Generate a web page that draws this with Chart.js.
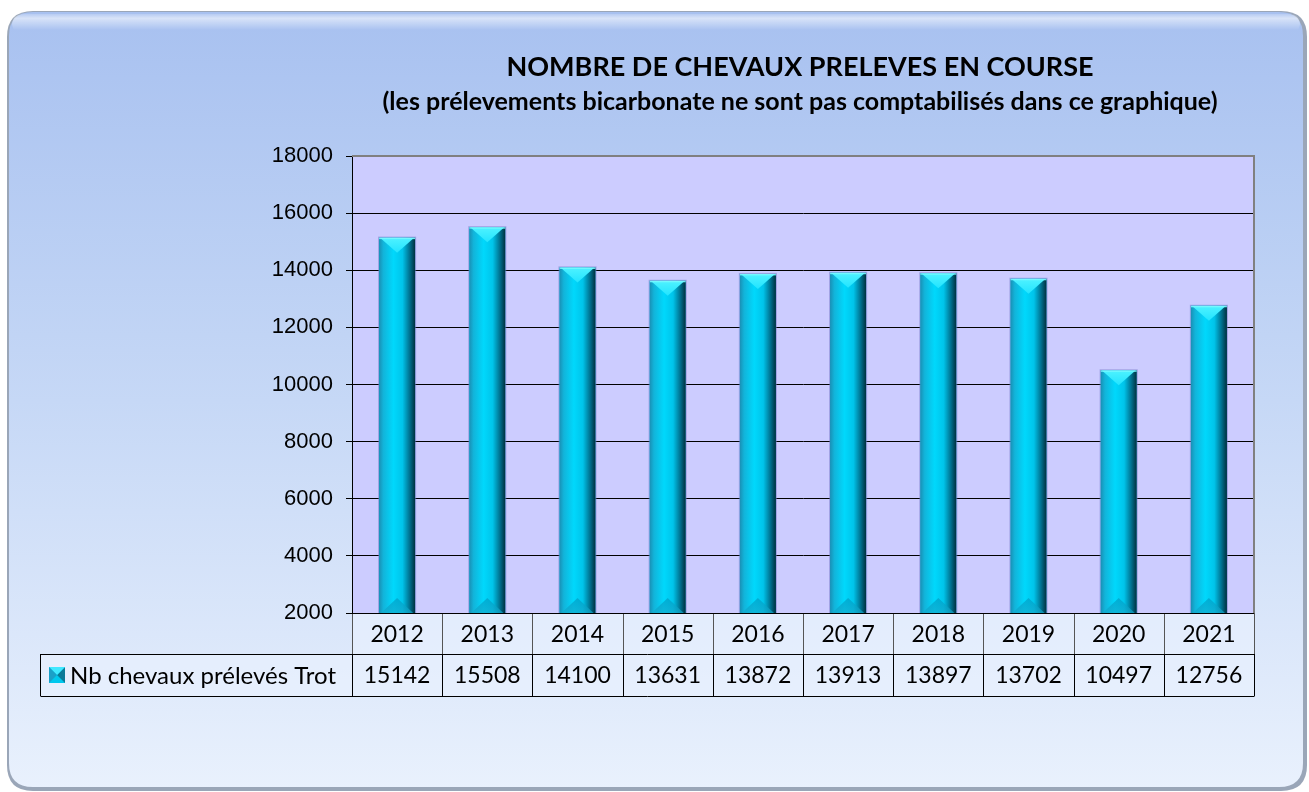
<!DOCTYPE html>
<html lang="fr">
<head>
    <meta charset="UTF-8">
    <title>Nombre de chevaux prélevés en course</title>
    <script src="https://cdn.jsdelivr.net/npm/chart.js"></script>
    <style>
        html, body { margin: 0; padding: 0; background: #ffffff; }
        canvas { display: block; }
    </style>
</head>
<body>
    <canvas id="chart" width="1309" height="792"></canvas>

    <script>
        // Data
        const years = ['2012', '2013', '2014', '2015', '2016', '2017', '2018', '2019', '2020', '2021'];
        const trotValues = [15142, 15508, 14100, 13631, 13872, 13913, 13897, 13702, 10497, 12756];
        const seriesLabel = 'Nb chevaux prélevés Trot';
        const titleText = 'NOMBRE DE CHEVAUX PRELEVES EN COURSE';
        const subtitleText = '(les prélevements bicarbonate ne sont pas comptabilisés dans ce graphique)';

        const textFont = 'Lato, "Open Sans", sans-serif';

        function roundRect(ctx, x, y, w, h, r) {
            ctx.beginPath();
            ctx.moveTo(x + r, y);
            ctx.lineTo(x + w - r, y);
            ctx.quadraticCurveTo(x + w, y, x + w, y + r);
            ctx.lineTo(x + w, y + h - r);
            ctx.quadraticCurveTo(x + w, y + h, x + w - r, y + h);
            ctx.lineTo(x + r, y + h);
            ctx.quadraticCurveTo(x, y + h, x, y + h - r);
            ctx.lineTo(x, y + r);
            ctx.quadraticCurveTo(x, y, x + r, y);
            ctx.closePath();
        }

        // panel background, plot area fill
        const backgroundPlugin = {
            id: 'panel',
            beforeDraw(chart) {
                const ctx = chart.ctx;
                const area = chart.chartArea;
                ctx.save();
                ctx.fillStyle = '#ffffff';
                ctx.fillRect(0, 0, chart.width, chart.height);

                // bevel shadow
                roundRect(ctx, 7, 11, 1300, 780, 26);
                ctx.fillStyle = '#9aa6b8';
                ctx.fill();

                const g = ctx.createLinearGradient(0, 12, 0, 790);
                g.addColorStop(0, '#a8c1f0');
                g.addColorStop(0.5, '#c6d8f6');
                g.addColorStop(1, '#e9f1fd');
                roundRect(ctx, 9, 12, 1294, 775, 24);
                ctx.fillStyle = g;
                ctx.fill();

                // top highlight
                const hl = ctx.createLinearGradient(0, 12, 0, 30);
                hl.addColorStop(0, 'rgba(255,255,255,0.0)');
                hl.addColorStop(0.35, 'rgba(255,255,255,0.55)');
                hl.addColorStop(1, 'rgba(255,255,255,0)');
                roundRect(ctx, 12, 14, 1288, 20, 12);
                ctx.fillStyle = hl;
                ctx.fill();

                ctx.fillStyle = '#ccccff';
                ctx.fillRect(area.left, area.top, area.right - area.left, area.bottom - area.top);
                ctx.restore();
            }
        };

        // cylinder-like shading on each bar
        const barShadePlugin = {
            id: 'barShade',
            afterDatasetsDraw(chart) {
                const ctx = chart.ctx;
                const area = chart.chartArea;
                const meta = chart.getDatasetMeta(0);
                ctx.save();
                ctx.beginPath();
                ctx.rect(area.left, area.top, area.right - area.left, area.bottom - area.top);
                ctx.clip();
                meta.data.forEach(bar => {
                    const w = bar.width;
                    const l = bar.x - w / 2;
                    const r = bar.x + w / 2;
                    const top = bar.y;
                    const bottom = Math.min(bar.base, area.bottom);

                    const g = ctx.createLinearGradient(l, 0, r, 0);
                    g.addColorStop(0, '#1990b5');
                    g.addColorStop(0.12, '#12b4da');
                    g.addColorStop(0.4, '#00d8fc');
                    g.addColorStop(0.65, '#00c4ea');
                    g.addColorStop(0.85, '#00708e');
                    g.addColorStop(1, '#00303e');
                    ctx.fillStyle = g;
                    ctx.fillRect(l, top, w, bottom - top);

                    // top bevel
                    const h = 15;
                    const tg = ctx.createLinearGradient(0, top, 0, top + h);
                    tg.addColorStop(0, '#4ff2ff');
                    tg.addColorStop(1, '#22e4ff');
                    ctx.beginPath();
                    ctx.moveTo(l + 1, top);
                    ctx.lineTo(r - 1, top);
                    ctx.lineTo(bar.x, top + h);
                    ctx.closePath();
                    ctx.fillStyle = tg;
                    ctx.fill();
                    ctx.fillStyle = 'rgba(120,250,255,0.9)';
                    ctx.fillRect(l, top, w, 1.5);

                    // bottom bevel
                    const bg = ctx.createLinearGradient(0, bottom - h, 0, bottom);
                    bg.addColorStop(0, 'rgba(0,150,190,0.6)');
                    bg.addColorStop(1, 'rgba(20,170,205,0.7)');
                    ctx.beginPath();
                    ctx.moveTo(l + 2, bottom);
                    ctx.lineTo(r - 2, bottom);
                    ctx.lineTo(bar.x, bottom - h);
                    ctx.closePath();
                    ctx.fillStyle = bg;
                    ctx.fill();

                    ctx.strokeStyle = 'rgba(120,120,200,0.5)';
                    ctx.lineWidth = 1;
                    ctx.strokeRect(l - 0.5, top - 0.5, w + 1, bottom - top + 1);
                });
                ctx.restore();
            }
        };

        // titles, frame and data table
        const tablePlugin = {
            id: 'dataTable',
            afterDraw(chart) {
                const ctx = chart.ctx;
                const area = chart.chartArea;
                const xScale = chart.scales.x;
                ctx.save();

                // gray frame top/right
                ctx.strokeStyle = '#808080';
                ctx.lineWidth = 2;
                ctx.beginPath();
                ctx.moveTo(area.left, area.top);
                ctx.lineTo(area.right, area.top);
                ctx.lineTo(area.right, area.bottom);
                ctx.stroke();

                // titles
                const cx = 800;
                ctx.fillStyle = '#000000';
                ctx.textAlign = 'center';
                ctx.textBaseline = 'alphabetic';
                ctx.font = 'bold 27px ' + textFont;
                ctx.fillText(titleText, cx, 76);
                ctx.font = 'bold 25px ' + textFont;
                ctx.fillText(subtitleText, cx, 110);

                // table
                const row1Top = area.bottom;
                const row1Bottom = 654;
                const row2Bottom = 696;
                const legendLeft = 40;
                const step = (area.right - area.left) / years.length;

                ctx.fillStyle = 'rgba(235,242,255,0.55)';
                ctx.fillRect(area.left, row1Top, area.right - area.left, row2Bottom - row1Top);
                ctx.fillRect(legendLeft, row1Bottom, area.left - legendLeft, row2Bottom - row1Bottom);

                ctx.lineWidth = 1;
                ctx.strokeStyle = '#555555';
                ctx.beginPath();
                for (let i = 0; i <= years.length; i++) {
                    const x = Math.round(area.left + i * step) + 0.5;
                    ctx.moveTo(x, row1Top);
                    ctx.lineTo(x, row1Bottom);
                }
                ctx.stroke();

                ctx.strokeStyle = '#000000';
                ctx.beginPath();
                ctx.moveTo(area.left, area.bottom + 0.5);
                ctx.lineTo(area.right, area.bottom + 0.5);
                ctx.moveTo(legendLeft + 0.5, row1Bottom + 0.5);
                ctx.lineTo(area.right + 0.5, row1Bottom + 0.5);
                ctx.moveTo(legendLeft + 0.5, row2Bottom + 0.5);
                ctx.lineTo(area.right + 0.5, row2Bottom + 0.5);
                ctx.moveTo(legendLeft + 0.5, row1Bottom);
                ctx.lineTo(legendLeft + 0.5, row2Bottom);
                for (let i = 0; i <= years.length; i++) {
                    const x = Math.round(area.left + i * step) + 0.5;
                    ctx.moveTo(x, row1Bottom);
                    ctx.lineTo(x, row2Bottom);
                }
                ctx.stroke();

                ctx.fillStyle = '#000000';
                ctx.font = '23px ' + textFont;
                ctx.textAlign = 'center';
                ctx.textBaseline = 'middle';
                years.forEach((y, i) => {
                    const x = xScale.getPixelForValue(i);
                    ctx.fillText(y, x, (row1Top + row1Bottom) / 2 + 1);
                    ctx.fillText(String(trotValues[i]), x, (row1Bottom + row2Bottom) / 2 + 1);
                });

                // legend key
                const kx = 49, ky = 667, ks = 16;
                ctx.fillStyle = '#00c8ee';
                ctx.fillRect(kx, ky, ks, ks);
                ctx.fillStyle = '#0a7a98';
                ctx.beginPath();
                ctx.moveTo(kx + ks, ky); ctx.lineTo(kx + ks, ky + ks); ctx.lineTo(kx + ks / 2, ky + ks / 2);
                ctx.closePath(); ctx.fill();
                ctx.fillStyle = '#40e8ff';
                ctx.beginPath();
                ctx.moveTo(kx, ky); ctx.lineTo(kx + ks, ky); ctx.lineTo(kx + ks / 2, ky + ks / 2);
                ctx.closePath(); ctx.fill();
                ctx.fillStyle = '#1aa0c8';
                ctx.beginPath();
                ctx.moveTo(kx, ky); ctx.lineTo(kx, ky + ks); ctx.lineTo(kx + ks / 2, ky + ks / 2);
                ctx.closePath(); ctx.fill();

                ctx.fillStyle = '#000000';
                ctx.textAlign = 'left';
                ctx.font = '24px ' + textFont;
                ctx.fillText(seriesLabel, 70, (row1Bottom + row2Bottom) / 2 + 1);

                ctx.restore();
            }
        };

        const ctx = document.getElementById('chart').getContext('2d');
        new Chart(ctx, {
            type: 'bar',
            data: {
                labels: years,
                datasets: [{
                    label: seriesLabel,
                    data: trotValues,
                    backgroundColor: '#00c8ee',
                    borderWidth: 0,
                    barPercentage: 0.4,
                    categoryPercentage: 1.0
                }]
            },
            options: {
                responsive: false,
                animation: false,
                layout: {
                    padding: { left: 0, right: 55, top: 156, bottom: 179 }
                },
                plugins: {
                    legend: { display: false },
                    title: { display: false },
                    tooltip: { enabled: false }
                },
                scales: {
                    x: {
                        display: false,
                        grid: { display: false }
                    },
                    y: {
                        min: 2000,
                        max: 18000,
                        afterFit(scale) { scale.width = 352; },
                        ticks: {
                            stepSize: 2000,
                            color: '#000000',
                            padding: 13,
                            font: { family: '"Liberation Sans", Arial, sans-serif', size: 22 },
                            callback: value => String(value)
                        },
                        grid: {
                            color: '#000000',
                            lineWidth: 1,
                            tickLength: 6
                        },
                        border: { color: '#000000', width: 1 }
                    }
                }
            },
            plugins: [backgroundPlugin, barShadePlugin, tablePlugin]
        });
    </script>
</body>
</html>
